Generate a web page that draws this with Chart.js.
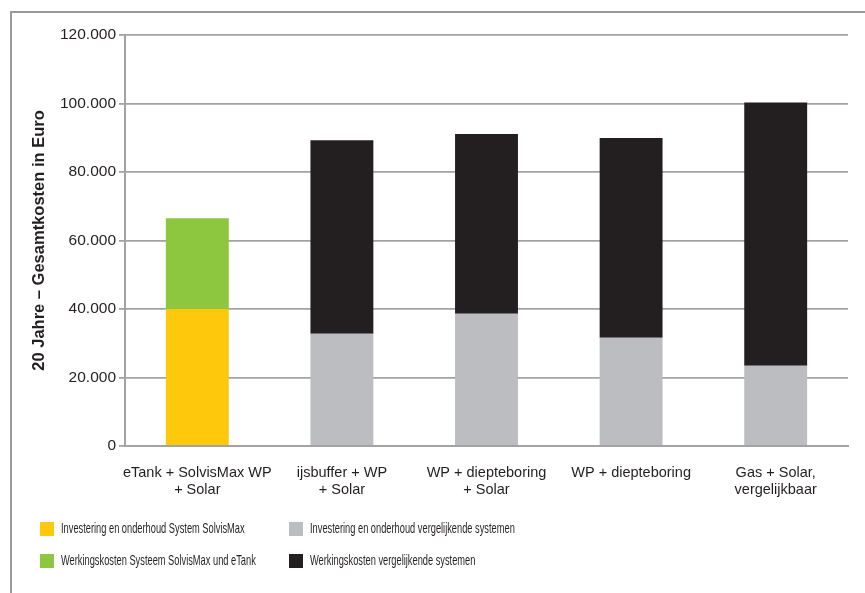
<!DOCTYPE html>
<html>
<head>
<meta charset="utf-8">
<script src="https://cdn.jsdelivr.net/npm/chart.js@4.4.1/dist/chart.umd.min.js"></script>
<style>
  html, body { margin: 0; padding: 0; background: #fff; }
  #wrap { position: relative; width: 865px; height: 593px; overflow: hidden; }
  #frame { position: absolute; left: 10px; top: 11px; right: 0; bottom: 0;
           border-top: 2px solid #9a9a9a; border-left: 2px solid #9a9a9a; }
  #chart { position: absolute; left: 0; top: 0; }
  .lg { position: absolute; font-family: "Liberation Sans", Arial, sans-serif;
        font-size: 14.5px; color: #231f20; white-space: nowrap; }
  .lg span.box { position: absolute; left: 0; top: 0; width: 14px; height: 14px; }
  .lg span.txt { position: absolute; left: 21px; top: -2px; display: inline-block;
                 transform: scaleX(0.64); transform-origin: 0 50%; }
</style>
</head>
<body>
<div id="wrap">
  <div id="frame"></div>
  <canvas id="chart" width="865" height="593"></canvas>
</div>
<script>
// Kategorien (x-Achse)
const categories = [
  ["eTank + SolvisMax WP", "+ Solar"],
  ["ijsbuffer + WP", "+ Solar"],
  ["WP + diepteboring", "+ Solar"],
  "WP + diepteboring",
  ["Gas + Solar,", "vergelijkbaar"]
];

// Reihen (Euro, gestapelt)
const solvisInvest  = [40000, null, null, null, null];
const solvisRunning = [26500, null, null, null, null];
const otherInvest   = [null, 32800, 38600, 31600, 23400];
const otherRunning  = [null, 56500, 52500, 58300, 76900];

const seriesLabels = [
  "Investering en onderhoud System SolvisMax",
  "Werkingskosten Systeem SolvisMax und eTank",
  "Investering en onderhoud vergelijkende systemen",
  "Werkingskosten vergelijkende systemen"
];
const seriesColors = ["#fec90c", "#8dc63f", "#bcbdc0", "#231f20"];

const yMax = 120000;
const yStep = 20000;
const yTitle = "20 Jahre \u2013 Gesamtkosten in Euro";

const font = "'Liberation Sans', Arial, sans-serif";
const gridColor = "#a3a3a3";

function fmt(v) {
  return String(v).replace(/\B(?=(\d{3})+(?!\d))/g, ".");
}

const seriesData = [solvisInvest, solvisRunning, otherInvest, otherRunning];

new Chart(document.getElementById("chart").getContext("2d"), {
  type: "bar",
  data: {
    labels: categories,
    datasets: seriesData.map((d, i) => ({
      label: seriesLabels[i],
      data: d,
      backgroundColor: seriesColors[i],
      borderWidth: 0,
      barPercentage: 0.435,
      categoryPercentage: 1.0
    }))
  },
  options: {
    responsive: false,
    animation: false,
    layout: { padding: { left: 0, right: 17, top: 35, bottom: 0 } },
    plugins: { legend: { display: false }, tooltip: { enabled: false } },
    scales: {
      x: {
        stacked: true,
        grid: { display: false },
        border: { display: true, color: gridColor, width: 2 },
        ticks: { color: "#231f20", font: { family: font, size: 14.5 }, padding: 10, maxRotation: 0, autoSkip: false },
        afterFit: (s) => { s.height = 593 - 446; }
      },
      y: {
        stacked: true,
        min: 0,
        max: yMax,
        afterFit: (s) => { s.width = 125; },
        grid: { color: gridColor, lineWidth: 1.8, tickLength: 6 },
        border: { display: true, color: gridColor, width: 2 },
        ticks: { stepSize: yStep, color: "#231f20", font: { family: font, size: 15.5 }, padding: 3,
                 callback: (v) => fmt(v) },
        title: { display: true, text: yTitle, color: "#231f20",
                 font: { family: font, size: 16.5, weight: "bold" }, padding: { top: 30, bottom: 0 } }
      }
    }
  }
});

// Legende in zwei Spalten
const legendPos = [[40, 522], [40, 554], [289, 522], [289, 554]];
const wrap = document.getElementById("wrap");
seriesLabels.forEach((lbl, i) => {
  const el = document.createElement("div");
  el.className = "lg";
  el.style.left = legendPos[i][0] + "px";
  el.style.top = legendPos[i][1] + "px";
  el.innerHTML = '<span class="box" style="background:' + seriesColors[i] + '"></span><span class="txt"></span>';
  el.querySelector(".txt").textContent = lbl;
  wrap.appendChild(el);
});
</script>
</body>
</html>
